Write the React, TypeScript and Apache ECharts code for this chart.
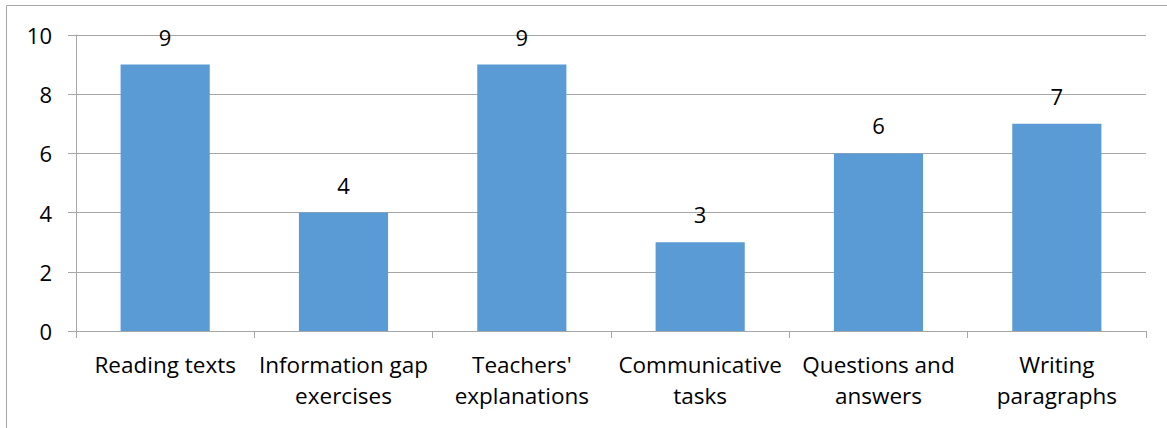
import React, { useEffect, useRef } from "react";
import * as echarts from "echarts";

const categories = [
  "Reading texts",
  "Information gap\nexercises",
  "Teachers'\nexplanations",
  "Communicative\ntasks",
  "Questions and\nanswers",
  "Writing\nparagraphs",
];
const values = [9, 4, 9, 3, 6, 7];
const yMin = 0;
const yMax = 10;
const yInterval = 2;

const FONT = "'Open Sans', 'Liberation Sans', sans-serif";

export default function App() {
  const ref = useRef<HTMLDivElement>(null);
  useEffect(() => {
    if (!ref.current) return;
    const chart = echarts.init(ref.current, null, { renderer: "svg" });
    chart.setOption({
      animation: false,
      backgroundColor: "#ffffff",
      graphic: [
        {
          type: "rect",
          shape: { x: 6.5, y: 5.5, width: 1200, height: 500 },
          style: { fill: "none", stroke: "#a6a6a6", lineWidth: 1 },
          silent: true,
        },
      ],
      grid: { left: 76, right: 21, top: 35, bottom: 97 },
      xAxis: {
        type: "category",
        data: categories,
        axisLine: { show: true, lineStyle: { color: "#a6a6a6", width: 1 } },
        axisTick: { show: true, length: 7, alignWithLabel: false, lineStyle: { color: "#a6a6a6" } },
        axisLabel: {
          color: "#000",
          fontFamily: FONT,
          fontSize: 22.5,
          lineHeight: 31,
          margin: 18,
          interval: 0,
        },
      },
      yAxis: {
        type: "value",
        min: yMin,
        max: yMax,
        interval: yInterval,
        axisLine: { show: true, lineStyle: { color: "#a6a6a6", width: 1 } },
        axisTick: { show: true, length: 8, lineStyle: { color: "#a6a6a6" } },
        splitLine: { show: true, lineStyle: { color: "#a6a6a6", width: 1 } },
        axisLabel: {
          color: "#000",
          fontFamily: FONT,
          fontSize: 22,
          margin: 24,
        },
      },
      series: [
        {
          type: "bar",
          data: values,
          barWidth: "50%",
          itemStyle: { color: "#5b9bd5" },
          label: {
            show: true,
            position: "top",
            distance: 17,
            color: "#000",
            fontFamily: FONT,
            fontSize: 22,
          },
        },
      ],
    });
    return () => chart.dispose();
  }, []);
  return (
    <div
      ref={ref}
      style={{ position: "fixed", left: 0, top: 0, width: 1167, height: 428 }}
    />
  );
}
